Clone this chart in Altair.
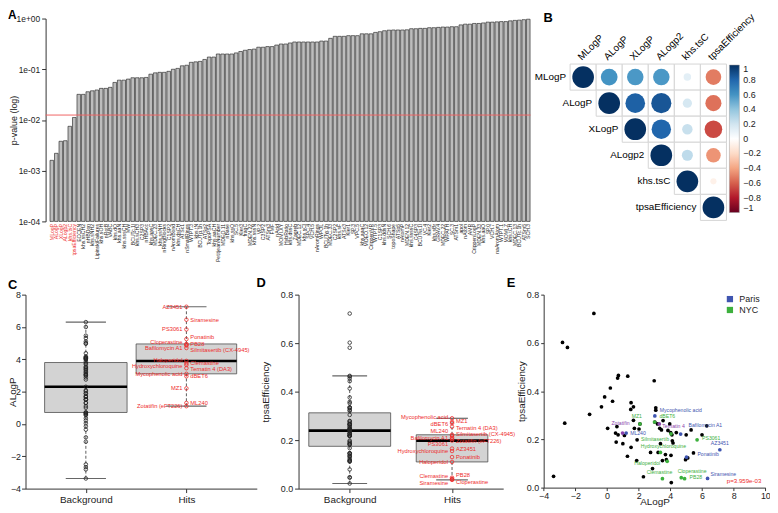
import json
import math
import altair as alt
import pandas as pd

FONT = "Liberation Sans"
RED = "#ee2c2c"
BLUE = "#3f55b0"
GREEN = "#3db03d"
PURPLE = "#8b44ac"

# ---------------- Panel A: descriptor p-values ----------------
desc_hits = ["MLogP", "ALogP", "XLogP", "ALogp2", "khs.tsC", "tpsaEfficiency"]
desc_other = [
    "ECCEN", "khs.ssCH2", "nHBDon", "khs.sNH2", "LipinskiFailures", "khs.sOH", "nRotB", "VABC", "khs.dO", "khs.aaN",
    "khs.sssCH", "MW", "BCUTc.1l", "khs.sCH3", "C2SP3", "nHBAcc", "khs.aasC", "MDEC.23", "khs.ssNH", "nRingBlocks",
    "C1SP2", "nAromBond", "khs.dsCH", "ATSc1", "nSmallRings", "WTPT.3", "khs.tN", "BCUTp.1h", "ATSp2", "TopoPSA",
    "khs.aaCH", "PetitjeanNumber", "MDEO.11", "nBase", "khs.ssO", "SC.5", "Kier3", "fragC", "MDEN.22", "khs.sssN",
    "VP.2", "C3SP2", "ATSm3", "FMF", "nAcid", "MOMI.XY", "HybRatio", "khs.dssC", "Zagreb", "MDEC.12",
    "khs.sCl", "SPC.4", "VCH.5", "nAromRings", "WPOL", "BCUTw.1h", "MDEC.33", "C2SP2", "khs.sF", "ATSc3",
    "Kier1", "SP.3", "VPC.5", "khs.aaaC", "MDEO.12", "CrippenMR", "WTPT.5", "C1SP3", "khs.ddsN", "SCH.6",
    "topoShape", "ATSp5", "nAtomP", "MDEN.12", "khs.ssssC", "C4SP3", "BCUTw.1l", "VC.4", "Kier2", "khs.sBr",
    "GRAV.4", "MDEC.22", "WPATH", "SC.3", "ATSm1", "apol", "nAtom", "AMR", "CrippenLogP", "MDEN.33",
    "khs.aaO", "SP.0", "VCH.7", "naAromAtom", "WTPT.1", "MOMI.Z", "khs.tCH", "MDEC.13", "BCUTc.1h", "ATSm5",
    "SCH.3",
]
descriptors = desc_hits + desc_other
pvalues = [
    0.0016, 0.0022, 0.0038, 0.0039, 0.0075, 0.0112, 0.032, 0.032, 0.036, 0.0376,
    0.039, 0.042, 0.042, 0.044, 0.055, 0.061, 0.061, 0.064, 0.068, 0.068,
    0.068, 0.069, 0.080, 0.085, 0.087, 0.087, 0.091, 0.100, 0.104, 0.117,
    0.120, 0.137, 0.140, 0.143, 0.156, 0.174, 0.174, 0.200, 0.200, 0.200,
    0.200, 0.210, 0.224, 0.237, 0.245, 0.250, 0.272, 0.272, 0.280, 0.280,
    0.300, 0.315, 0.315, 0.330, 0.345, 0.345, 0.345, 0.345, 0.345, 0.345,
    0.360, 0.360, 0.407, 0.446, 0.446, 0.446, 0.460, 0.460, 0.460, 0.500,
    0.500, 0.500, 0.533, 0.550, 0.575, 0.590, 0.595, 0.595, 0.595, 0.600,
    0.630, 0.630, 0.640, 0.640, 0.660, 0.660, 0.670, 0.680, 0.680, 0.690,
    0.690, 0.750, 0.775, 0.775, 0.800, 0.800, 0.820, 0.850, 0.850, 0.860,
    0.870, 0.870, 0.900, 0.920, 0.930, 0.950, 0.970,
]
p_threshold = 0.0125
p_ticks = [1e-4, 1e-3, 1e-2, 1e-1, 1.0]

# ---------------- Panel B: correlation (upper triangle) ----------------
corr_vars = ["MLogP", "ALogP", "XLogP", "ALogp2", "khs.tsC", "tpsaEfficiency"]
corr_MLogP = [1.00, 0.60, 0.58, 0.58, 0.12, -0.52]
corr_ALogP = [1.00, 0.82, 0.86, 0.18, -0.55]
corr_XLogP = [1.00, 0.80, 0.23, -0.66]
corr_ALogp2 = [1.00, 0.26, -0.45]
corr_khs = [1.00, -0.08]
corr_tpsa = [1.00]
corr_rows = [corr_MLogP, corr_ALogP, corr_XLogP, corr_ALogp2, corr_khs, corr_tpsa]
cbar_ticks = [1, 0.8, 0.6, 0.4, 0.2, 0, -0.2, -0.4, -0.6, -0.8, -1]
corr_colors = ["#67001F", "#B2182B", "#D6604D", "#F4A582", "#FDDBC7", "#FFFFFF",
               "#D1E5F0", "#92C5DE", "#4393C3", "#2166AC", "#053061"]

# ---------------- Hits (panels C, D) ----------------
hit_names = ["AZ3451", "Siramesine", "PS3061", "Ponatinib", "Cloperastine", "PB28",
             "Bafilomycin A1", "Silmitasertib", "Haloperidol", "Clemastine",
             "Hydroxychloroquine", "Ternatin 4", "Mycophenolic acid", "dBET6", "MZ1",
             "ML240", "Zotatifin"]
hit_long_names = ["AZ3451", "Siramesine", "PS3061", "Ponatinib", "Cloperastine", "PB28",
                  "Bafilomycin A1", "Silmitasertib (CX-4945)", "Haloperidol", "Clemastine",
                  "Hydroxychloroquine", "Ternatin 4 (DA3)", "Mycophenolic acid", "dBET6", "MZ1",
                  "ML240", "Zotatifin (eFT226)"]
hit_alogp = [7.25, 6.45, 5.85, 5.25, 4.95, 4.90, 4.85, 4.70, 3.90, 3.75,
             3.65, 3.45, 3.10, 2.95, 2.20, 1.30, 1.10]
hit_tpsa = [0.165, 0.036, 0.198, 0.130, 0.038, 0.045, 0.210, 0.218, 0.110, 0.040,
            0.155, 0.255, 0.290, 0.270, 0.275, 0.222, 0.205]
hit_site = ["Paris", "Paris", "NYC", "Paris", "NYC", "NYC", "Paris", "NYC", "NYC", "NYC",
            "NYC", "Both", "Paris", "NYC", "NYC", "Paris", "Both"]
# hits
hit_e_alogp = [7.125, 6.35, 5.69, 5.02, 4.69, 4.90, 4.65, 4.04, 3.80, 3.50,
               3.375, 3.30, 3.02, 3.00, 2.08, 1.21, 0.98]
hit_e_tpsa = [0.157, 0.038, 0.198, 0.126, 0.041, 0.037, 0.222, 0.223, 0.109, 0.037,
              0.146, 0.264, 0.297, 0.272, 0.264, 0.226, 0.226]

# ---------------- Background compounds ----------------
bg_alogp = [-0.83, -2.81, -2.5, -2.67, -3.375, -1.1, -0.15, -0.35, 0.21, 0.35,
            0.67, 0.72, 1.31, 2.98, 0.04, 0.54, 0.625, 0.58, 0.70, 1.1,
            1.29, 1.52, 1.0, 1.52, 1.67, 1.5, 1.67, 1.73, 1.9, 1.875,
            2.02, 2.08, 2.75, 3.08, 3.08, 3.02, 3.19, 3.33, 3.44, 3.23,
            3.375, 2.875, 2.30, 3.5, 3.75, 3.69, 3.96, 3.85, 4.02, 4.1,
            4.125, 4.17, 4.06, 4.04, 4.375, 5.0, 4.96, 5.1, 5.31, 5.46,
            6.0, 6.3, 3.54]
bg_tpsa = [0.722, 0.602, 0.581, 0.267, 0.047, 0.304, 0.376, 0.335, 0.413, 0.358,
           0.454, 0.465, 0.462, 0.443, 0.246, 0.226, 0.253, 0.189, 0.219, 0.216,
           0.130, 0.167, 0.182, 0.352, 0.335, 0.324, 0.279, 0.246, 0.198, 0.112,
           0.243, 0.264, 0.146, 0.331, 0.321, 0.272, 0.264, 0.246, 0.239, 0.146,
           0.182, 0.079, 0.045, 0.112, 0.116, 0.137, 0.264, 0.237, 0.228, 0.219,
           0.194, 0.185, 0.021, 0.134, 0.228, 0.219, 0.116, 0.123, 0.239, 0.144,
           0.219, 0.256, 0.278]
p_text = "p=3.959e-03"

# ---------------- layout helpers ----------------
W, H = 770, 505
M = 8


def cx(v):
    return v - M


def qs(domain, rng):
    return alt.Scale(domain=domain, range=rng, nice=False, zero=False)


layers = []


def letter(t, x, y, size=13):
    return alt.Chart(pd.DataFrame({"t": [t]})).mark_text(
        fontSize=size, fontWeight="bold", align="left", baseline="top", font=FONT
    ).encode(x=alt.value(x), y=alt.value(y), text="t:N")


# ================= Panel A =================
dfA = pd.DataFrame({"desc": descriptors, "p": pvalues})
xA = alt.Scale(domain=descriptors, range=[cx(50), cx(536)], paddingInner=0.2, paddingOuter=0.1)
yA = alt.Scale(type="log", domain=[1e-4, 1], range=[cx(221), cx(16)], nice=False)
red_test = "indexof(" + json.dumps(desc_hits) + ", datum.value) >= 0"

barsA = alt.Chart(dfA).mark_bar(fill="#bdbdbd", stroke="#1a1a1a", strokeWidth=0.6).encode(
    x=alt.X("desc:N", sort=None, scale=xA, axis=alt.Axis(
        orient="bottom", offset=cx(221) - H, domain=False, ticks=False, labelAngle=270,
        labelFontSize=5.2, labelPadding=2, labelOverlap=False, labelLimit=200, title=None,
        labelColor={"condition": {"test": red_test, "value": RED}, "value": "#222222"})),
    y=alt.Y("p:Q", scale=yA, axis=alt.Axis(
        orient="left", offset=-cx(46), values=p_ticks, tickSize=4, labelFontSize=8.5,
        labelPadding=2, labelOverlap=False, labelFlush=False,
        labelExpr="datum.value >= 1 ? '1e+00' : '1e-0' + round(-log(datum.value) / LN10)",
        title="p-value (log)", titleFontSize=9, titleFontWeight="normal",
        titleAngle=270, titleBaseline="bottom", titleX=cx(18.5) - cx(46))),
    y2=alt.datum(1e-4),
)
ruleA = alt.Chart(pd.DataFrame({"p": [p_threshold]})).mark_rule(color="#f06464", strokeWidth=1).encode(
    y=alt.Y("p:Q", scale=yA, axis=None), x=alt.value(cx(46)), x2=alt.value(cx(536)))
layers += [barsA, ruleA]

# ================= Panel B =================
cells = []
for i, rv in enumerate(corr_vars):
    for k, r in enumerate(corr_rows[i]):
        cells.append({"row": rv, "col": corr_vars[i + k], "r": r, "absr": abs(r)})
dfB = pd.DataFrame(cells)
xB = alt.Scale(domain=corr_vars, range=[cx(576), cx(734)], paddingInner=0, paddingOuter=0)
yB = alt.Scale(domain=corr_vars, range=[cx(62), cx(220)], paddingInner=0, paddingOuter=0)
cellB = (734 - 576) / len(corr_vars)

rectB = alt.Chart(dfB).mark_rect(fill="white", stroke="#d4d4d4", strokeWidth=1).encode(
    x=alt.X("col:N", scale=xB, axis=None), y=alt.Y("row:N", scale=yB, axis=None))
circB = alt.Chart(dfB).mark_circle(opacity=1).encode(
    x=alt.X("col:N", scale=xB, axis=None), y=alt.Y("row:N", scale=yB, axis=None),
    size=alt.Size("absr:Q", scale=alt.Scale(domain=[0, 1], range=[0, 480], zero=True), legend=None),
    color=alt.Color("r:Q", scale=alt.Scale(domain=[-1, -0.8, -0.6, -0.4, -0.2, 0, 0.2, 0.4, 0.6, 0.8, 1],
                                           range=corr_colors, interpolate="rgb"),
                    legend=alt.Legend(orient="none", legendX=cx(737), legendY=cx(63), direction="vertical",
                                      gradientLength=149, gradientThickness=10, values=cbar_ticks,
                                      format="~g", labelFontSize=9, title=None, labelOverlap=False,
                                      gradientStrokeColor="#999999", gradientStrokeWidth=0.5,
                                      labelOffset=4)),
)
dfBl = pd.DataFrame({"v": corr_vars})
rowlabB = alt.Chart(dfBl).mark_text(fontSize=10, align="right", baseline="middle",
                                    dx=-(cellB / 2 + 4), font=FONT).encode(
    x=alt.X("v:N", scale=xB, axis=None), y=alt.Y("v:N", scale=yB, axis=None), text="v:N")
collabB = alt.Chart(dfBl).mark_text(fontSize=10, align="left", baseline="bottom", angle=315, font=FONT).encode(
    x=alt.X("v:N", scale=xB, axis=None), y=alt.value(cx(60)), text="v:N")
layers += [rectB, circB, rowlabB, collabB]


# ================= Panels C and D (box plots) =================
def fivenum(v):
    x = sorted(v)
    n = len(x)
    n4 = math.floor((n + 3) / 2) / 2
    d = [1, n4, (n + 1) / 2, n + 1 - n4, n]
    return [0.5 * (x[math.floor(k) - 1] + x[math.ceil(k) - 1]) for k in d]


def box_stats(v):
    _, q1, med, q3, _ = fivenum(v)
    iqr = q3 - q1
    lo = min(a for a in v if a >= q1 - 1.5 * iqr)
    hi = max(a for a in v if a <= q3 + 1.5 * iqr)
    return dict(q1=q1, med=med, q3=q3, lo=lo, hi=hi)


def spread(vals, gap):
    pos = list(vals)
    for _ in range(500):
        moved = False
        for i in range(len(pos) - 1):
            d = pos[i] - pos[i + 1]
            if d < gap - 1e-9:
                s = (gap - d) / 2
                pos[i] += s
                pos[i + 1] -= s
                moved = True
        if not moved:
            break
    return pos


def box_layers(bg_vals, hit_vals, hit_text, xs, ys, xaxis, yaxis, widths, gap):
    rows = []
    for pos, vals, (hw, cw) in ((1, bg_vals, widths[0]), (2, hit_vals, widths[1])):
        s = box_stats(vals)
        s.update(pos=pos, x0=pos - hw, x1=pos + hw, c0=pos - cw, c1=pos + cw)
        rows.append(s)
    base = alt.Chart(pd.DataFrame(rows))
    out = []
    out.append(base.mark_rect(fill="#d3d3d3", stroke="#4d4d4d", strokeWidth=0.8).encode(
        x=alt.X("x0:Q", scale=xs, axis=xaxis), x2="x1",
        y=alt.Y("q1:Q", scale=ys, axis=yaxis), y2="q3"))
    for a, b in (("q3", "hi"), ("lo", "q1")):
        out.append(base.mark_rule(color="#333333", strokeWidth=0.8, strokeDash=[3, 2]).encode(
            x=alt.X("pos:Q", scale=xs, axis=None), y=alt.Y(a + ":Q", scale=ys, axis=None), y2=b))
    for a in ("hi", "lo"):
        out.append(base.mark_rule(color="#666666", strokeWidth=1.2).encode(
            x=alt.X("c0:Q", scale=xs, axis=None), x2="c1", y=alt.Y(a + ":Q", scale=ys, axis=None)))
    out.append(base.mark_rule(color="black", strokeWidth=2.6).encode(
        x=alt.X("x0:Q", scale=xs, axis=None), x2="x1", y=alt.Y("med:Q", scale=ys, axis=None)))
    dbg = pd.DataFrame({"pos": [1] * len(bg_vals), "v": bg_vals})
    dht = pd.DataFrame({"pos": [2] * len(hit_vals), "v": hit_vals})
    out.append(alt.Chart(dbg).mark_point(shape="circle", filled=False, size=13, strokeWidth=0.8,
                                         color="#222222", opacity=1).encode(
        x=alt.X("pos:Q", scale=xs, axis=None), y=alt.Y("v:Q", scale=ys, axis=None)))
    out.append(alt.Chart(dht).mark_point(shape="circle", filled=False, size=13, strokeWidth=0.8,
                                         color=RED, opacity=1).encode(
        x=alt.X("pos:Q", scale=xs, axis=None), y=alt.Y("v:Q", scale=ys, axis=None)))
    order = sorted(range(len(hit_vals)), key=lambda i: -hit_vals[i])
    sides = {"L": [], "R": []}
    for rank, i in enumerate(order):
        sides["L" if rank % 2 == 0 else "R"].append(i)
    for side, idx in sides.items():
        ypos = spread([hit_vals[i] for i in idx], gap)
        dl = pd.DataFrame({"pos": [2] * len(idx), "ly": ypos, "t": [hit_text[i] for i in idx]})
        out.append(alt.Chart(dl).mark_text(
            fontSize=5.8, font=FONT, color=RED, baseline="middle",
            align="right" if side == "L" else "left", dx=-4 if side == "L" else 4).encode(
            x=alt.X("pos:Q", scale=xs, axis=None), y=alt.Y("ly:Q", scale=ys, axis=None), text="t:N"))
    return out


# --- C
xC = qs([0.4, 2.7], [cx(25.7), cx(259.4)])
yC = qs([-4, 8], [cx(491), cx(295)])
axCx = alt.Axis(orient="bottom", offset=cx(491) - H, values=[1, 2], tickSize=4, labelFontSize=10,
                labelPadding=2, labelFlush=False, labelOverlap=False, title=None,
                labelExpr="datum.value == 1 ? 'Background' : 'Hits'")
axCy = alt.Axis(orient="left", offset=-cx(25.7), values=[-4, -2, 0, 2, 4, 6, 8], tickSize=4,
                labelFontSize=9, labelPadding=1, labelFlush=False, labelOverlap=False,
                title="ALogP", titleFontSize=10, titleFontWeight="normal", titleAngle=270,
                titleBaseline="bottom", titleX=cx(18) - cx(25.7))
layers += box_layers(bg_alogp, hit_alogp, hit_long_names, xC, yC, axCx, axCy,
                     [(0.41, 0.2), (0.5, 0.2)], 6.5 / (196 / 12))

# --- D
xD = qs([0.5, 2.5], [cx(301.6), cx(508.4)])
yD = qs([0, 0.8], [cx(491), cx(295)])
axDx = alt.Axis(orient="bottom", offset=cx(491) - H, values=[1, 2], tickSize=4, labelFontSize=10,
                labelPadding=2, labelFlush=False, labelOverlap=False, title=None,
                labelExpr="datum.value == 1 ? 'Background' : 'Hits'")
axDy = alt.Axis(orient="left", offset=-cx(301.6), values=[0, 0.2, 0.4, 0.6, 0.8], format=".1f",
                tickSize=4, labelFontSize=9, labelPadding=2, labelFlush=False, labelOverlap=False,
                title="tpsaEfficiency", titleFontSize=10, titleFontWeight="normal", titleAngle=270,
                titleBaseline="bottom", titleX=cx(273) - cx(301.6))
layers += box_layers(bg_tpsa, hit_tpsa, hit_long_names, xD, yD, axDx, axDy,
                     [(0.4, 0.17), (0.35, 0.155)], 6.5 / 245)

# ================= Panel E (scatter) =================
xE = qs([-4, 10], [cx(549.3), cx(773.3)])
yE = qs([0, 0.8], [cx(490), cx(295)])
dfEbg = pd.DataFrame({"a": bg_alogp, "t": bg_tpsa})
bgE = alt.Chart(dfEbg).mark_circle(size=14, color="black", opacity=1).encode(
    x=alt.X("a:Q", scale=xE, axis=alt.Axis(
        orient="bottom", offset=cx(490) - H, values=[-4, -2, 0, 2, 4, 6, 8, 10], tickSize=3,
        labelFontSize=9, labelPadding=1, labelFlush=False, labelOverlap=False,
        title="ALogP", titleFontSize=10, titleFontWeight="normal", titleBaseline="middle", titleY=14)),
    y=alt.Y("t:Q", scale=yE, axis=alt.Axis(
        orient="left", offset=-cx(549.3), values=[0, 0.2, 0.4, 0.6, 0.8], format=".1f", tickSize=3,
        labelFontSize=9, labelPadding=2, labelFlush=False, labelOverlap=False,
        title="tpsaEfficiency", titleFontSize=10, titleFontWeight="normal", titleAngle=270,
        titleBaseline="bottom", titleX=cx(532) - cx(549.3))),
)
dfEh = pd.DataFrame({"a": hit_e_alogp, "t": hit_e_tpsa, "site": hit_site, "name": hit_names})
site_scale = alt.Scale(domain=["Paris", "NYC", "Both"], range=[BLUE, GREEN, PURPLE])
hitE = alt.Chart(dfEh).mark_point(filled=True, shape="circle", size=14, opacity=1).encode(
    x=alt.X("a:Q", scale=xE, axis=None), y=alt.Y("t:Q", scale=yE, axis=None),
    color=alt.Color("site:N", scale=site_scale, legend=alt.Legend(
        orient="none", legendX=cx(733), legendY=cx(295), title=None, values=["Paris", "NYC"],
        symbolType="square", symbolSize=40, labelFontSize=9, rowPadding=1, labelOffset=5)),
)
layers += [bgE, hitE]

# label placement (align, dx, dy) relative to each point
e_label_style = {
    "Mycophenolic acid": ("left", 5, -6), "dBET6": ("left", 5, -6), "MZ1": ("right", 2, -8),
    "Ternatin 4": ("left", 3, 2), "Zotatifin": ("center", -2, -10), "ML240": ("left", 4, 0),
    "Bafilomycin A1": ("left", 8, -9), "Silmitasertib": ("right", -2, 5), "PS3061": ("left", 5, -2),
    "AZ3451": ("center", 0, -7), "Ponatinib": ("left", 11, -3), "Hydroxychloroquine": ("center", 3, -6),
    "Haloperidol": ("right", -7, 2), "Clemastine": ("center", -3, -7), "Cloperastine": ("center", 11, -7),
    "PB28": ("left", 5, -2), "Siramesine": ("left", 3, -4),
}
for name, (al, dx, dy) in e_label_style.items():
    sub = dfEh[dfEh["name"] == name]
    layers.append(alt.Chart(sub).mark_text(fontSize=5.2, font=FONT, align=al, dx=dx, dy=dy,
                                           baseline="middle").encode(
        x=alt.X("a:Q", scale=xE, axis=None), y=alt.Y("t:Q", scale=yE, axis=None), text="name:N",
        color=alt.Color("site:N", scale=site_scale, legend=None)))

layers.append(alt.Chart(pd.DataFrame({"a": [9.75], "t": [0.028], "s": [p_text]})).mark_text(
    fontSize=6.2, font=FONT, color=RED, align="right", baseline="middle").encode(
    x=alt.X("a:Q", scale=xE, axis=None), y=alt.Y("t:Q", scale=yE, axis=None), text="s:N"))

# panel letters
layers += [letter("A", 0, -1, 12), letter("B", cx(549), cx(9)), letter("C", 0, cx(279)),
           letter("D", cx(259), cx(277)), letter("E", cx(512), cx(277))]

chart = alt.layer(*layers).resolve_scale(
    x="independent", y="independent", color="independent", size="independent"
).resolve_axis(x="independent", y="independent").resolve_legend(
    color="independent", size="independent"
).properties(
    width=W, height=H, padding=0, autosize=alt.AutoSizeParams(type="none")
).configure_view(stroke=None).configure_axis(
    grid=False, labelFont=FONT, titleFont=FONT, domainColor="#333333", tickColor="#333333",
    labelColor="#222222", titleColor="#222222", domainWidth=1, tickWidth=1
).configure_legend(labelFont=FONT, labelColor="#222222").configure_text(font=FONT)

chart.save("out.html", embed_options={"renderer": "svg", "actions": False})
